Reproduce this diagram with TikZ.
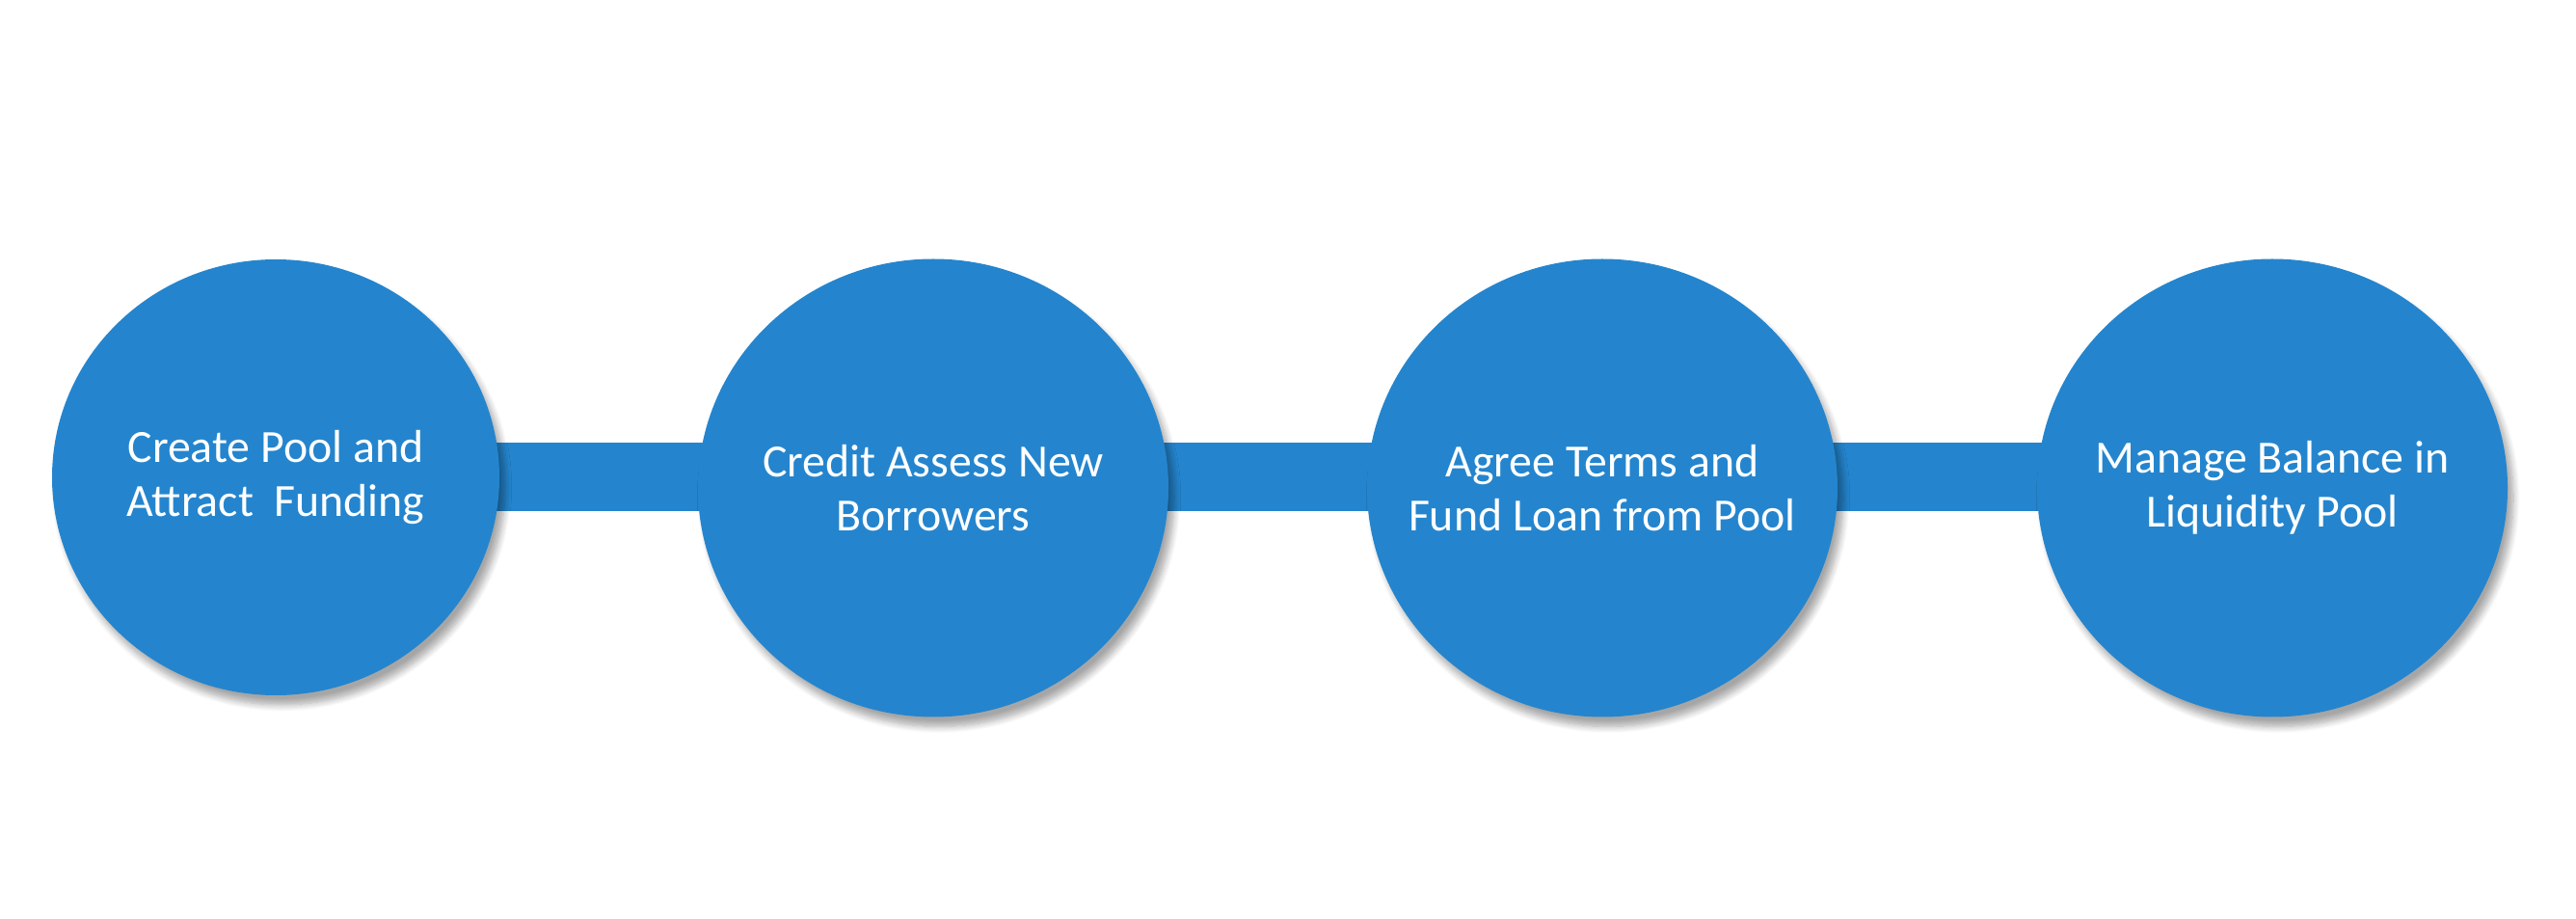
\documentclass[tikz,border=0pt]{standalone}
\usepackage{fontspec}
\setmainfont{Carlito}
\usepackage{tikz}
\usetikzlibrary{shapes.geometric,shadows.blur,backgrounds}
\definecolor{stepblue}{HTML}{2485CE}

\tikzset{
  stepnode/.style={ellipse, fill=stepblue, inner sep=0pt,
      blur shadow={shadow xshift=0.6mm, shadow yshift=-1mm, shadow opacity=35, shadow blur steps=8}},
  steptext/.style={text=white, align=center, font=\fontsize{13.6}{15.8}\selectfont},
  linkbar/.style={draw=stepblue, line width=0.71cm},
}

\begin{document}
\begin{tikzpicture}
  \useasboundingbox (0,0) rectangle (26.72,9.52);

  \node[stepnode, minimum width=4.64cm, minimum height=4.52cm] (pool) at (2.86,4.57) {};
  \node[stepnode, minimum width=4.88cm, minimum height=4.75cm] (assess) at (9.68,4.46) {};
  \node[stepnode, minimum width=4.88cm, minimum height=4.75cm] (terms) at (16.62,4.46) {};
  \node[stepnode, minimum width=4.88cm, minimum height=4.75cm] (balance) at (23.57,4.46) {};

  \node[steptext] (pooltext) at (pool) {Create Pool and\\Attract\ \ Funding};
  \node[steptext] (assesstext) at (assess) {Credit Assess New\\Borrowers};
  \node[steptext] (termstext) at (terms) {Agree Terms and\\Fund Loan from Pool};
  \node[steptext] (balancetext) at (balance) {Manage Balance in\\Liquidity Pool};

  \begin{scope}[on background layer]
    \draw[linkbar] (pool.center) -- (pool.center -| assess.center);
    \draw[linkbar] (pool.center -| assess.center) -- (pool.center -| terms.center);
    \draw[linkbar] (pool.center -| terms.center) -- (pool.center -| balance.center);
  \end{scope}
\end{tikzpicture}
\end{document}
